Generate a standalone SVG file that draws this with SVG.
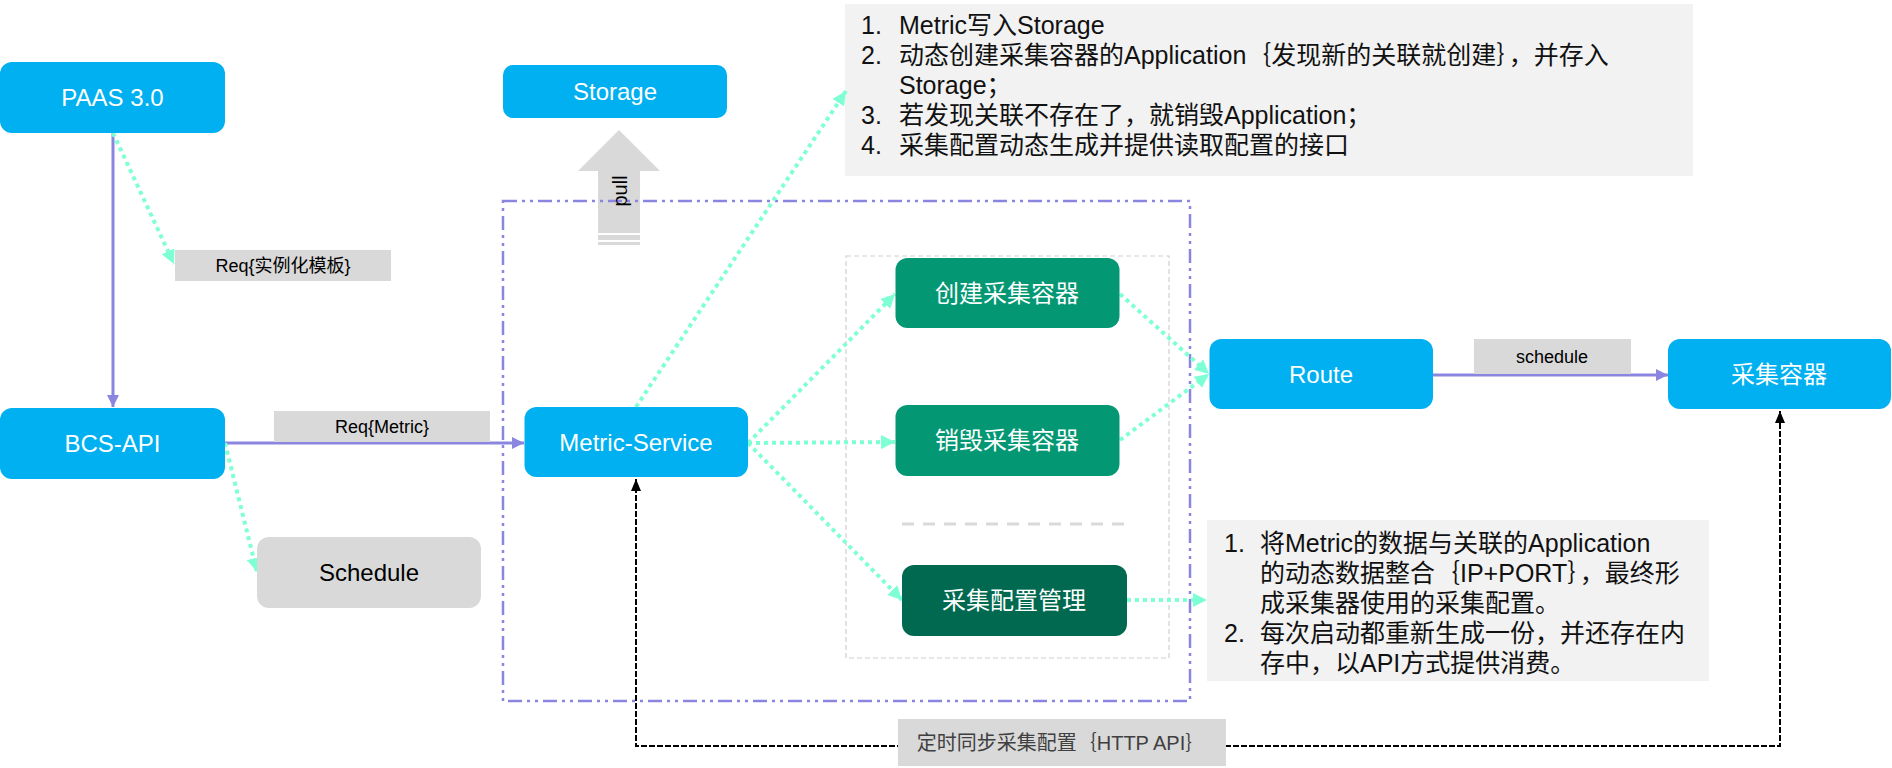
<svg xmlns="http://www.w3.org/2000/svg" width="1892" height="768" viewBox="0 0 1892 768">
<style>
.blue{fill:#00b0f0}
.green{fill:#039873}
.dgreen{fill:#00694f}
.gray{fill:#d9d9d9}
.nt{font-family:"Liberation Sans",Arial,sans-serif;font-size:24px;fill:#fff;text-anchor:middle}
.nc{font-family:"Noto Sans CJK SC",sans-serif;font-size:24px;fill:#fff;text-anchor:middle}
.lb{font-family:"Liberation Sans","Noto Sans CJK SC",sans-serif;font-size:18px;fill:#000;text-anchor:middle}
.bt{font-family:"Liberation Sans","Noto Sans CJK SC",sans-serif;font-size:25px;fill:#111}
.teal{fill:none;stroke:#7fffd4;stroke-width:4;stroke-dasharray:4 4}
.purple{fill:none;stroke:#8a86e0;stroke-width:3}
.black{fill:none;stroke:#000;stroke-width:2;stroke-dasharray:6 2}
</style>
<defs>
<marker id="ta" viewBox="0 0 14 14" refX="14" refY="7" markerWidth="14" markerHeight="14" orient="auto" markerUnits="userSpaceOnUse"><path d="M0,0 L14,7 L0,14 z" fill="#7fffd4"/></marker>
<marker id="pa" viewBox="0 0 12 12" refX="12" refY="6" markerWidth="12" markerHeight="12" orient="auto" markerUnits="userSpaceOnUse"><path d="M0,0 L12,6 L0,12 z" fill="#8a86e0"/></marker>
<marker id="ba" viewBox="0 0 12 10" refX="12" refY="5" markerWidth="12" markerHeight="10" orient="auto-start-reverse" markerUnits="userSpaceOnUse"><path d="M0,0 L12,5 L0,10 z" fill="#000"/></marker>
</defs>

<g id="notes">
<rect x="845" y="4" width="848" height="172" fill="#f2f2f2"/>
<text class="bt" x="861" y="34">1.</text><text class="bt" x="899" y="34">Metric写入Storage</text>
<text class="bt" x="861" y="64">2.</text><text class="bt" x="899" y="64">动态创建采集容器的Application｛发现新的关联就创建｝，并存入</text>
<text class="bt" x="899" y="94">Storage；</text>
<text class="bt" x="861" y="124">3.</text><text class="bt" x="899" y="124">若发现关联不存在了，就销毁Application；</text>
<text class="bt" x="861" y="154">4.</text><text class="bt" x="899" y="154">采集配置动态生成并提供读取配置的接口</text>
</g>
<g id="notes2">
<rect x="1207" y="520" width="502" height="161" fill="#f2f2f2"/>
<text class="bt" x="1224" y="552">1.</text><text class="bt" x="1260" y="552">将Metric的数据与关联的Application</text>
<text class="bt" x="1260" y="582">的动态数据整合｛IP+PORT｝，最终形</text>
<text class="bt" x="1260" y="612">成采集器使用的采集配置。</text>
<text class="bt" x="1224" y="642">2.</text><text class="bt" x="1260" y="642">每次启动都重新生成一份，并还存在内</text>
<text class="bt" x="1260" y="672">存中，以API方式提供消费。</text>
</g>

<g id="pull">
<polygon points="619,130 660,171 640,171 640,233 598,233 598,171 578,171" fill="#d9d9d9"/>
<rect x="598" y="235" width="42" height="5" fill="#d9d9d9"/>
<rect x="598" y="242" width="42" height="3" fill="#d9d9d9"/>
</g>

<g id="boundary">
<rect x="503" y="201" width="687" height="500" fill="none" stroke="#8a86e0" stroke-width="2.5" stroke-dasharray="14 5 3 5 3 5"/>
<rect x="846" y="256" width="323" height="402" fill="none" stroke="#d0d0d0" stroke-width="1.2" stroke-dasharray="5 3"/>
<line x1="902" y1="524" x2="1125" y2="524" stroke="#d9d9d9" stroke-width="3" stroke-dasharray="12 9"/>
</g>

<text transform="translate(627,191) rotate(-90)" font-family="Liberation Sans, Arial, sans-serif" font-size="20" text-anchor="middle" fill="#000">pull</text>

<g id="connectors">
<path class="purple" d="M113,133 L113,407" marker-end="url(#pa)"/>
<path class="purple" d="M225,443 L524,443" marker-end="url(#pa)"/>
<path class="purple" d="M1433,375 L1668,375" marker-end="url(#pa)"/>
<path class="teal" d="M113,133 L174,264" marker-end="url(#ta)"/>
<path class="teal" d="M225,443 L257,572" marker-end="url(#ta)"/>
<path class="teal" d="M636,407 L846,91" marker-end="url(#ta)"/>
<path class="teal" d="M748,443 L895,294" marker-end="url(#ta)"/>
<path class="teal" d="M748,443 L895,442" marker-end="url(#ta)"/>
<path class="teal" d="M748,443 L902,600" marker-end="url(#ta)"/>
<path class="teal" d="M1120,294 L1209,374" marker-end="url(#ta)"/>
<path class="teal" d="M1120,440 L1209,374" marker-end="url(#ta)"/>
<path class="teal" d="M1127,600 L1207,600" marker-end="url(#ta)"/>
<path class="black" d="M636,479 L636,746 L1780,746 L1780,411" marker-start="url(#ba)" marker-end="url(#ba)"/>
</g>

<g id="label-req-template"><rect class="gray" x="175" y="250" width="216" height="31"/><text class="lb" x="283" y="272">Req{实例化模板}</text></g>
<g id="label-req-metric"><rect class="gray" x="274" y="411" width="216" height="31"/><text class="lb" x="382" y="433">Req{Metric}</text></g>
<g id="label-schedule"><rect class="gray" x="1474" y="339" width="157" height="35"/><text class="lb" x="1552" y="363">schedule</text></g>
<g id="label-sync"><rect class="gray" x="898" y="719" width="328" height="47"/><text x="1061" y="750" font-family="Liberation Sans, Noto Sans CJK SC, sans-serif" font-size="20" fill="#404040" text-anchor="middle">定时同步采集配置｛HTTP API｝</text></g>

<g id="paas"><rect class="blue" x="0" y="62" width="225" height="71" rx="12"/><text class="nt" x="112.5" y="106">PAAS 3.0</text></g>
<g id="bcs-api"><rect class="blue" x="0" y="408" width="225" height="71" rx="12"/><text class="nt" x="112.5" y="452">BCS-API</text></g>
<g id="storage"><rect class="blue" x="503" y="65" width="224" height="53" rx="10"/><text class="nt" x="615" y="100">Storage</text></g>
<g id="schedule"><rect class="gray" x="257" y="537" width="224" height="71" rx="12"/><text class="nt" x="369" y="581" style="fill:#000">Schedule</text></g>
<g id="metric-service"><rect class="blue" x="524.5" y="407" width="223.5" height="70" rx="12"/><text class="nt" x="636" y="451">Metric-Service</text></g>
<g id="create"><rect class="green" x="895.5" y="258" width="224" height="70" rx="12"/><text class="nc" x="1007" y="302">创建采集容器</text></g>
<g id="destroy"><rect class="green" x="895.5" y="405" width="224" height="71" rx="12"/><text class="nc" x="1007" y="449">销毁采集容器</text></g>
<g id="config"><rect class="dgreen" x="902" y="565" width="225" height="71" rx="12"/><text class="nc" x="1014" y="609">采集配置管理</text></g>
<g id="route"><rect class="blue" x="1209.5" y="339" width="223.5" height="70" rx="12"/><text class="nt" x="1321" y="383">Route</text></g>
<g id="collector"><rect class="blue" x="1668" y="339" width="223" height="70" rx="12"/><text class="nc" x="1779" y="383">采集容器</text></g>
</svg>
